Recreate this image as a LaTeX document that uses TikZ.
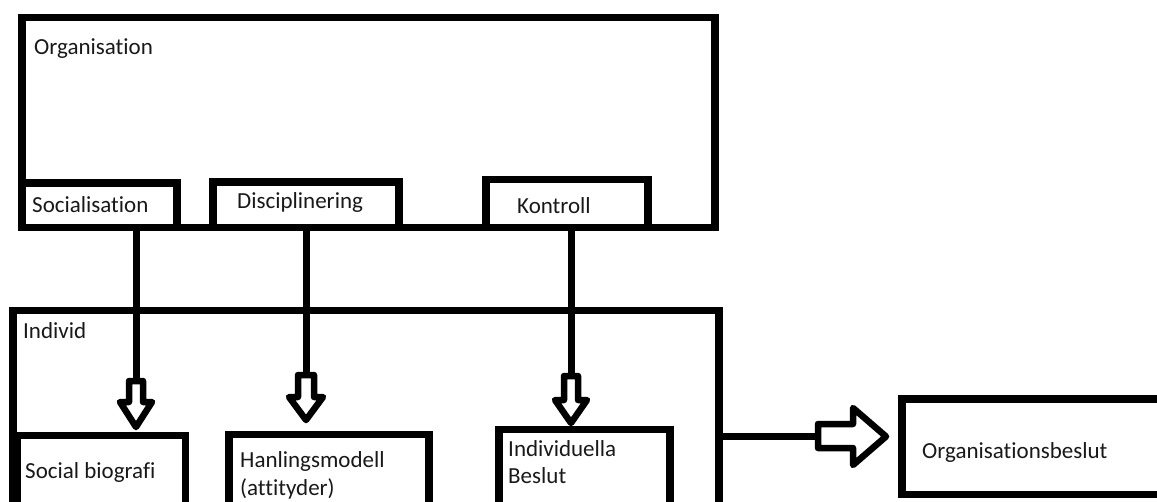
\documentclass[tikz,border=0pt]{standalone}
\usepackage{fontspec}
\setmainfont{Carlito}[Ligatures={NoCommon}]
\begin{document}
\begin{tikzpicture}[x=1pt,y=-1pt,
  box/.style={draw,line width=7.5pt,fill=white,rectangle,inner sep=0pt,outer sep=0pt,anchor=north west},
  stem/.style={line width=7pt},
  hollow/.style={draw,fill=white,line width=6.5pt,line join=round},
  lbl/.style={anchor=base west,inner sep=0pt,font=\fontsize{23}{28}\selectfont,text=black!90}]
\useasboundingbox (0,0) rectangle (1157,501);
\clip (0,0) rectangle (1157,501);
% Organisation
\node[box,minimum width=693pt,minimum height=210pt] (org) at (22,17.5) {};
\node[box,minimum width=155pt,minimum height=44.5pt] (soc) at (22,183) {};
\node[box,minimum width=186pt,minimum height=45.5pt] (dis) at (213,182) {};
\node[box,minimum width=162pt,minimum height=48pt] (kon) at (486,179.5) {};
\draw[line width=7.5pt] (org.south west) -- (org.south east);
% Individ
\node[box,minimum width=706pt,minimum height=240pt] (ind) at (13,310.5) {};
\node[box,minimum width=168.5pt,minimum height=120pt] (bio) at (17,435.5) {};
\node[box,minimum width=200pt,minimum height=120pt] (han) at (229,434.5) {};
\node[box,minimum width=171pt,minimum height=120pt] (ibe) at (499,429.5) {};
\node[box,minimum width=280pt,minimum height=95.5pt] (obe) at (902,399) {};
% labels
\node[lbl] (t1) at (34,54) {Organisation};
\node[lbl] (t2) at (32,212) {Socialisation};
\node[lbl] (t3) at (237,208) {Disciplinering};
\node[lbl] (t4) at (517,213) {Kontroll};
\node[lbl] (t5) at (23,338) {Individ};
\node[lbl] (t6) at (25,478) {Social biografi};
\node[lbl] (t7a) at (240,467) {Hanlingsmodell};
\node[lbl] (t7b) at (240,495) {(attityder)};
\node[lbl] (t8a) at (508,456) {Individuella};
\node[lbl] (t8b) at (508,483) {Beslut};
\node[lbl] (t9) at (922,458) {Organisationsbeslut};
% arrow coordinates
\coordinate (a1) at (136,381);
\coordinate (a2) at (306,375);
\coordinate (a3) at (571,376);
\coordinate (a4) at (818,436);
% stems
\draw[stem] (soc.south -| a1) -- (a1);
\draw[stem] (dis.south -| a2) -- (a2);
\draw[stem] (kon.south -| a3) -- (a3);
\draw[stem] (ind.east |- a4) -- (a4);
% hollow arrows
\draw[hollow] (129,381) -- (143,381) -- (143,402) -- (152,402) -- (136,427) -- (120,402) -- (129,402) -- cycle;
\draw[hollow] (298,375) -- (314,375) -- (314,397) -- (323,397) -- (306,420) -- (289,397) -- (298,397) -- cycle;
\draw[hollow] (564,376) -- (578,376) -- (578,400) -- (587,400) -- (571,423) -- (555,400) -- (564,400) -- cycle;
\draw[hollow] (818,424) -- (853,424) -- (853,408) -- (886,436.5) -- (853,465) -- (853,448) -- (818,448) -- cycle;
\end{tikzpicture}
\end{document}
